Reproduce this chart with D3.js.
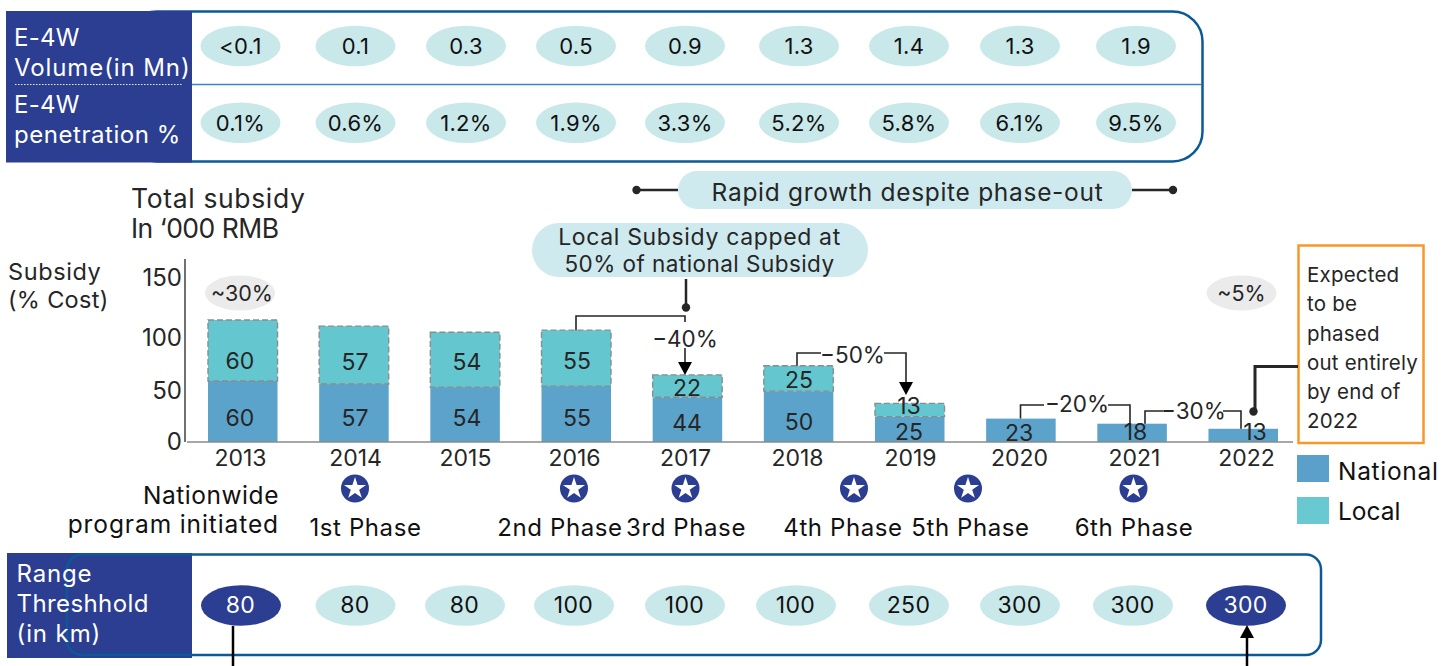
<!DOCTYPE html>
<html>
<head>
<meta charset="utf-8">
<script src="https://cdn.jsdelivr.net/npm/d3@7"></script>
<style>
html,body{margin:0;padding:0;background:#fff}
svg{display:block}
text{font-family:Inter,"Noto Sans",sans-serif;font-weight:400}
</style>
</head>
<body>
<svg id="chart" width="1455" height="666"></svg>
<script>
// E-4W subsidy data, 2013-2022
const years = ["2013","2014","2015","2016","2017","2018","2019","2020","2021","2022"];
const nationalSubsidy = [60,57,54,55,44,50,25,23,18,13];
const localSubsidy = [60,57,54,55,22,25,13,0,0,0];
const volumeYears = years.slice(0,9);
const volumeLabels = ["<0.1","0.1","0.3","0.5","0.9","1.3","1.4","1.3","1.9"];
const penetrationLabels = ["0.1%","0.6%","1.2%","1.9%","3.3%","5.2%","5.8%","6.1%","9.5%"];
const rangeThreshold = [80,80,80,100,100,100,250,300,300,300];
const yTicks = [0,50,100,150];

// Layout constants for the hand-placed columns and label nudges
const tableColumns = [240.5,355.5,466,576,685,799,909,1020,1136];
const rangeColumns = [241,355.5,465,574,685,796,909,1020,1133,1246];
const yearColumns = [240,355,465,574,685,797,910,1019,1134,1246];
const valueColumns = [240,355,467,577,687,799,909,1019,1135.5,1255];
const yTickRange = [441,390,337,277];
const nationalNudge = [5.5,4,2.5,3,2.4,5.4,2.7,1.7,-1,-3.4];
const localNudge = [10,6,1.5,2,1,1.5,-4,0,0,0];

const INK = "#262626", NAVY = "#2b3e92", PALE = "#c9e8ea", FRAME = "#0b5a96";
const svg = d3.select("#chart");

function label(sel, x, y, str, size, opts = {}) {
  return sel.append("text")
    .attr("x", x).attr("y", y)
    .attr("font-size", size)
    .attr("letter-spacing", opts.ls ?? 0.3)
    .attr("fill", opts.fill ?? INK)
    .attr("text-anchor", opts.anchor ?? "start")
    .text(str);
}

const x = d3.scaleBand().domain(years).range([208,1278]).paddingInner(0.3745).paddingOuter(0);
const y = d3.scaleLinear().domain([0,150]).range([442,289.5]);
const tableX = d3.scaleOrdinal().domain(volumeYears).range(tableColumns);
const rangeX = d3.scaleOrdinal().domain(years).range(rangeColumns);
const yearX = d3.scaleOrdinal().domain(years).range(yearColumns);
const valueX = d3.scaleOrdinal().domain(years).range(valueColumns);
const yTickScale = d3.scaleLinear().domain(yTicks).range(yTickRange);

const rows = years.map((year,i) => ({
  year, national: nationalSubsidy[i], local: localSubsidy[i],
  natNudge: nationalNudge[i], locNudge: localNudge[i]
}));

// Top table: frame, divider, header block
const tableGroup = svg.append("g");
tableGroup.append("rect").attr("x",127).attr("y",11.5).attr("width",1075.5).attr("height",150)
  .attr("rx",30).attr("fill","#fff").attr("stroke",FRAME).attr("stroke-width",2.5);
tableGroup.append("line").attr("x1",192).attr("x2",1202).attr("y1",84.5).attr("y2",84.5)
  .attr("stroke","#3d85c0").attr("stroke-width",1.5);
tableGroup.append("rect").attr("x",6).attr("y",11).attr("width",186).attr("height",151.5).attr("fill",NAVY);
tableGroup.append("line").attr("x1",15).attr("x2",183).attr("y1",84.5).attr("y2",84.5)
  .attr("stroke","#e8ecf6").attr("stroke-width",1.2).attr("stroke-dasharray","1.5 1.5");
[["E-4W",46,0.3],["Volume(in Mn)",76,0.9],["E-4W",113,0.3],["penetration %",143,0.55]].forEach(([t,by,ls]) =>
  label(tableGroup,14,by,t,24,{fill:"#fff",ls}));

function pillRow(labels, cy, baseline) {
  const g = svg.append("g");
  labels.forEach((t,i) => {
    const cx = tableX(volumeYears[i]);
    g.append("ellipse").attr("cx",cx).attr("cy",cy).attr("rx",40).attr("ry",20.3).attr("fill",PALE);
    label(g,cx,baseline,t,22,{anchor:"middle",fill:"#111"});
  });
}
pillRow(volumeLabels,46,54);
pillRow(penetrationLabels,122.7,131);

// Callouts above the bars
const notes = svg.append("g");
notes.append("rect").attr("x",678).attr("y",171).attr("width",454).attr("height",38).attr("rx",19).attr("fill","#cfeaee");
label(notes,907.5,201,"Rapid growth despite phase-out",24.5,{anchor:"middle",ls:0.7});
notes.append("line").attr("x1",636).attr("x2",678).attr("y1",190).attr("y2",190).attr("stroke",INK).attr("stroke-width",2.5);
notes.append("line").attr("x1",1132).attr("x2",1173).attr("y1",190).attr("y2",190).attr("stroke",INK).attr("stroke-width",2.5);
notes.append("circle").attr("cx",636.5).attr("cy",190).attr("r",4.2).attr("fill",INK);
notes.append("circle").attr("cx",1173).attr("cy",190).attr("r",4.2).attr("fill",INK);

notes.append("rect").attr("x",532).attr("y",223).attr("width",336).attr("height",54).attr("rx",27).attr("fill","#cfeaee");
label(notes,699.5,245,"Local Subsidy capped at",23,{anchor:"middle",ls:0.65});
label(notes,699.5,272,"50% of national Subsidy",22.5,{anchor:"middle",ls:0.45});
notes.append("line").attr("x1",686).attr("x2",686).attr("y1",279).attr("y2",307).attr("stroke",INK).attr("stroke-width",2.5);
notes.append("circle").attr("cx",686).attr("cy",307.5).attr("r",4.2).attr("fill",INK);

label(svg,131,208,"Total subsidy",26.5,{ls:0.65});
label(svg,131,238,"In \u2018000 RMB",26.5,{ls:-0.5});
label(svg,8,280,"Subsidy",23.5,{ls:0.6});
label(svg,8,308,"(% Cost)",23.5);

// Axes
const yAxis = svg.append("g").attr("transform","translate(186,0)")
  .call(d3.axisLeft(yTickScale).tickValues(yTicks).tickSize(0).tickPadding(6));
yAxis.select(".domain").remove();
yAxis.selectAll("text").attr("font-size",24).attr("font-family","Inter").attr("fill",INK).attr("dy",".36em").attr("dx",2);
svg.append("line").attr("x1",185).attr("x2",185).attr("y1",259).attr("y2",442).attr("stroke","#111").attr("stroke-width",1.2);

// Stacked bars
const bars = svg.append("g");
bars.selectAll("rect.national").data(rows).join("rect").attr("class","national")
  .attr("x",d => x(d.year)).attr("width",x.bandwidth())
  .attr("y",d => y(d.national)).attr("height",d => y(0)-y(d.national))
  .attr("fill","#5ca3cc");
bars.selectAll("rect.local").data(rows.filter(d => d.local > 0)).join("rect").attr("class","local")
  .attr("x",d => x(d.year)).attr("width",x.bandwidth())
  .attr("y",d => y(d.national+d.local)).attr("height",d => y(d.national)-y(d.national+d.local))
  .attr("fill","#64c7cf").attr("stroke","#8c8c8c").attr("stroke-width",1.4).attr("stroke-dasharray","6 3");

svg.append("line").attr("x1",187).attr("x2",1293).attr("y1",442).attr("y2",442).attr("stroke","#8a8a8a").attr("stroke-width",1.4);

const xAxis = svg.append("g").attr("transform","translate(0,443)")
  .call(d3.axisBottom(yearX).tickValues(years).tickSize(0).tickPadding(5));
xAxis.select(".domain").remove();
xAxis.selectAll("text").attr("font-size",23).attr("font-family","Inter").attr("fill",INK).attr("dy",".78em");

const valueLabels = svg.append("g").attr("text-anchor","middle").attr("font-size",23).attr("fill",INK);
valueLabels.selectAll("text.nat").data(rows).join("text").attr("class","nat")
  .attr("x",d => valueX(d.year))
  .attr("y",d => (y(0)+y(d.national))/2+d.natNudge+8.5)
  .text(d => d.national);
valueLabels.selectAll("text.loc").data(rows.filter(d => d.local > 0)).join("text").attr("class","loc")
  .attr("x",d => valueX(d.year))
  .attr("y",d => (y(d.national)+y(d.national+d.local))/2+d.locNudge+8.5)
  .text(d => d.local);

// Share-of-cost badges
[["~30%",240,242],["~5%",1241.5,1241.5]].forEach(([t,cx,tx]) => {
  svg.append("ellipse").attr("cx",cx).attr("cy",293).attr("rx",35).attr("ry",17.5).attr("fill","#ebebeb");
  label(svg,tx,301,t,21.5,{anchor:"middle",ls:0});
});

// Year-on-year brackets and arrows; dir is -1 for a head pointing down, +1 for up
const brackets = svg.append("g").attr("fill","none").attr("stroke",INK).attr("stroke-width",1.6);
const arrow = (tipX,tipY,dir = -1) => svg.append("path")
  .attr("d",d3.line()([[tipX,tipY],[tipX-7,tipY+dir*13],[tipX+7,tipY+dir*13]])+"Z").attr("fill","#000");
const stack = i => y(nationalSubsidy[i]+localSubsidy[i]);

brackets.append("path").attr("d",d3.line()([[576,stack(3)],[576,316],[685,316],[685,322]]));
brackets.append("line").attr("x1",685).attr("x2",685).attr("y1",348).attr("y2",364);
label(svg,685,347,"\u221240%",22.5,{anchor:"middle",ls:0});
arrow(685,stack(4));

brackets.append("path").attr("d",d3.line()([[797,stack(5)],[797,353],[821,353]]));
label(svg,852.5,363,"\u221250%",22.5,{anchor:"middle",ls:0});
brackets.append("path").attr("d",d3.line()([[884,353],[906,353],[906,384]]));
arrow(906,395);

brackets.append("path").attr("d",d3.line()([[1020.5,stack(7)],[1020.5,405],[1044,405]]));
label(svg,1077,412,"\u221220%",22.5,{anchor:"middle",ls:0});
brackets.append("path").attr("d",d3.line()([[1108,405],[1130,405],[1130,stack(8)]]));

brackets.append("path").attr("d",d3.line()([[1145,stack(8)],[1145,411],[1163,411]]));
label(svg,1193.5,419,"\u221230%",22.5,{anchor:"middle",ls:0});
brackets.append("path").attr("d",d3.line()([[1223,411],[1241,411],[1241,stack(9)]]));

// Phase-out note
svg.append("rect").attr("x",1298.5).attr("y",245.5).attr("width",125).attr("height",197.5)
  .attr("fill","none").attr("stroke","#f7982a").attr("stroke-width",2.5);
[["Expected",282],["to be",311],["phased",341],["out entirely",370],["by end of",399],["2022",428]]
  .forEach(([t,by]) => label(svg,1307,by,t,20.5,{ls:0.2}));
svg.append("path").attr("d",d3.line()([[1298,366.5],[1255,366.5],[1255,411]]))
  .attr("fill","none").attr("stroke",INK).attr("stroke-width",3);
svg.append("circle").attr("cx",1253.5).attr("cy",411.5).attr("r",4.2).attr("fill",INK);

// Legend
svg.append("rect").attr("x",1297).attr("y",455).attr("width",32).attr("height",27).attr("fill","#5ba0ca");
svg.append("rect").attr("x",1297).attr("y",497).attr("width",32).attr("height",27).attr("fill","#69c9d0");
label(svg,1338,480,"National",24.5,{fill:"#111",ls:0.7});
label(svg,1338,520,"Local",24.5,{fill:"#111",ls:0});

// Policy phase markers
const phaseStars = [
  {name:"1st Phase",star:355,text:365.5},{name:"2nd Phase",star:574,text:560},
  {name:"3rd Phase",star:685.5,text:686},{name:"4th Phase",star:854,text:843},
  {name:"5th Phase",star:968,text:970.5},{name:"6th Phase",star:1133.5,text:1134}
];
const starPath = d3.symbol().type(d3.symbolStar).size(150)();
phaseStars.forEach(p => {
  const g = svg.append("g").attr("transform",`translate(${p.star},488.5)`);
  g.append("circle").attr("r",14).attr("fill",NAVY);
  g.append("path").attr("d",starPath).attr("fill","#fff");
  label(svg,p.text,536,p.name,24,{anchor:"middle",fill:"#111",ls:0.6});
});
label(svg,279,504,"Nationwide",24.5,{anchor:"end",fill:"#111",ls:0.55});
label(svg,279,533,"program initiated",24.5,{anchor:"end",fill:"#111",ls:0.9});

// Range threshold strip
const strip = svg.append("g");
strip.append("rect").attr("x",7).attr("y",553).attr("width",185).attr("height",105).attr("fill",NAVY);
strip.append("rect").attr("x",67).attr("y",554.5).attr("width",1254).attr("height",100.5)
  .attr("rx",15).attr("fill","none").attr("stroke",FRAME).attr("stroke-width",2.5);
[["Range",582,0.8],["Threshhold",612,0.4],["(in km)",642,0.9]].forEach(([t,by,ls]) =>
  label(strip,16.5,by,t,24,{fill:"#fff",ls}));
rangeThreshold.forEach((v,i) => {
  const cx = rangeX(years[i]);
  const highlighted = i === 0 || i === rangeThreshold.length-1;
  strip.append("ellipse").attr("cx",cx).attr("cy",605.5).attr("rx",40).attr("ry",20.3)
    .attr("fill",highlighted ? NAVY : PALE);
  label(strip,cx-0.5,613,v,23,{anchor:"middle",fill:highlighted ? "#fff" : "#111"});
});
strip.append("line").attr("x1",233).attr("x2",233).attr("y1",626).attr("y2",666).attr("stroke","#000").attr("stroke-width",2.5);
strip.append("line").attr("x1",1247).attr("x2",1247).attr("y1",636).attr("y2",666).attr("stroke","#000").attr("stroke-width",2.5);
arrow(1247,625,1);
</script>
</body>
</html>
